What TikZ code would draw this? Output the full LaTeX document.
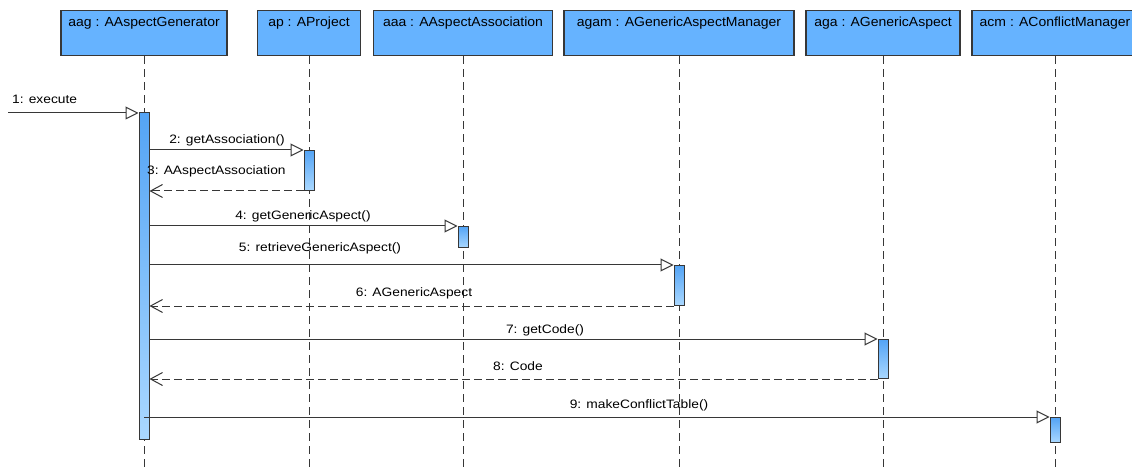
\documentclass[tikz,border=0pt]{standalone}
\usepackage{graphicx}
\usepackage{fontspec}
\setmainfont{Liberation Sans}
\usetikzlibrary{arrows.meta}
\definecolor{hdr}{RGB}{102,179,255}
\definecolor{bartop}{RGB}{84,164,245}
\definecolor{barbot}{RGB}{170,216,255}
\definecolor{ln}{RGB}{55,55,55}
\newcommand{\mlbl}[1]{\scalebox{1.13}[1]{\fontsize{12.2}{14}\selectfont #1}}
\newcommand{\hlbl}[1]{\scalebox{1.06}[1]{\fontsize{13.2}{15}\selectfont #1}}
\begin{document}
\begin{tikzpicture}[x=1pt,y=-1pt,
  obj/.style={draw=ln, fill=hdr, line width=1.1pt, anchor=north, inner xsep=0pt, inner ysep=2pt,
              text height=14pt, text depth=27pt},
  life/.style={draw=ln, line width=1pt, dash pattern=on 8pt off 5pt},
  actbar/.style={draw=ln, line width=1pt, top color=bartop, bottom color=barbot, minimum width=10pt, inner sep=0pt, anchor=north},
  call/.style={draw=ln, line width=1pt, -{Triangle[open, length=13pt, width=13pt, fill=white]}},
  ret/.style={draw=ln, line width=1pt, dash pattern=on 8pt off 4pt, -{Straight Barb[length=12pt, width=13pt]}},
  lbl/.style={anchor=base, inner sep=0pt, text=black}]
\useasboundingbox (0,0) rectangle (1132,470);
\fill[white] (0,0) rectangle (1132,470);
% objects
\node[obj, minimum width=166pt] (aag)  at (144,10)  {\hlbl{aag : AAspectGenerator}};
\node[obj, minimum width=103pt] (ap)   at (309,10)  {\hlbl{ap : AProject}};
\node[obj, minimum width=179pt] (aaa)  at (463,10)  {\hlbl{aaa : AAspectAssociation}};
\node[obj, minimum width=230pt] (agam) at (679,10)  {\hlbl{agam : AGenericAspectManager}};
\node[obj, minimum width=154pt] (aga)  at (883,10)  {\hlbl{aga : AGenericAspect}};
\node[obj, minimum width=166pt] (acm)  at (1055,10) {\hlbl{acm : AConflictManager}};
% lifeline ends
\coordinate (e1) at (144,472);
\coordinate (e2) at (309,472);
\coordinate (e3) at (463,472);
\coordinate (e4) at (679,472);
\coordinate (e5) at (883,472);
\coordinate (e6) at (1055,472);
\draw[life] (aag.south) -- (e1);
\draw[life] (ap.south) -- (e2);
\draw[life] (aaa.south) -- (e3);
\draw[life] (agam.south) -- (e4);
\draw[life] (aga.south) -- (e5);
\draw[life] (acm.south) -- (e6);
% activation bars
\node[actbar, minimum height=327pt] (b1) at (144,112) {};
\node[actbar, minimum height=40pt]  (b2) at (309,150) {};
\node[actbar, minimum height=21pt]  (b3) at (463,226) {};
\node[actbar, minimum height=40pt]  (b4) at (679,265) {};
\node[actbar, minimum height=39pt]  (b5) at (883,339) {};
\node[actbar, minimum height=25pt]  (b6) at (1055,417) {};
% messages
\coordinate (m1s) at (8,113);
\draw[call] (m1s) -- (b1.north west |- m1s);
\node[lbl, anchor=base west] (l1) at (12,104) {\mlbl{1: execute}};
\draw[call] (b1.east |- b2.north) -- (b2.north west);
\node[lbl] (l2) at (227,144) {\mlbl{2: getAssociation()}};
\draw[ret] (b2.south west) -- (b1.east |- b2.south);
\node[lbl, anchor=base west] (l3) at (147,175) {\mlbl{3: AAspectAssociation}};
\draw[call] (b1.east |- b3.north) -- (b3.north west);
\node[lbl] (l4) at (303,220) {\mlbl{4: getGenericAspect()}};
\draw[call] (b1.east |- b4.north) -- (b4.north west);
\node[lbl] (l5) at (320,252) {\mlbl{5: retrieveGenericAspect()}};
\draw[ret] (b4.south west) -- (b1.east |- b4.south);
\node[lbl] (l6) at (414,297) {\mlbl{6: AGenericAspect}};
\draw[call] (b1.east |- b5.north) -- (b5.north west);
\node[lbl] (l7) at (545,333) {\mlbl{7: getCode()}};
\draw[ret] (b5.south west) -- (b1.east |- b5.south);
\node[lbl] (l8) at (518,370) {\mlbl{8: Code}};
\draw[call] (b1.center |- b6.north) -- (b6.north west);
\node[lbl] (l9) at (639,408) {\mlbl{9: makeConflictTable()}};
\end{tikzpicture}
\end{document}
